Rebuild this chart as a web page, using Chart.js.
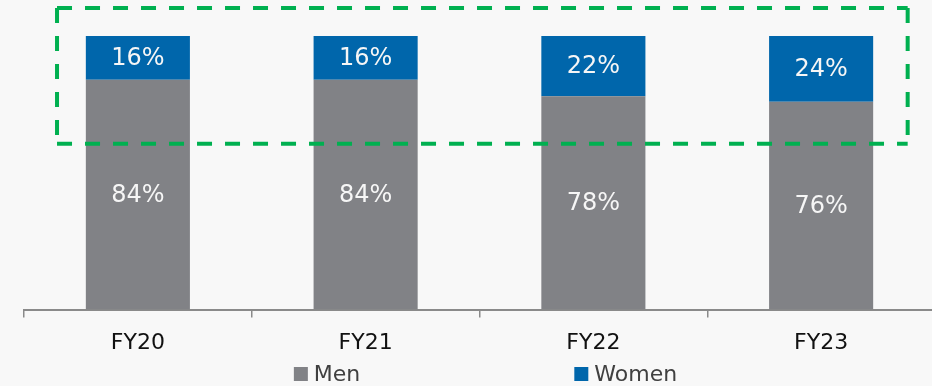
<!DOCTYPE html>
<html>
<head>
<meta charset="utf-8">
<script src="https://cdn.jsdelivr.net/npm/chart.js@4/dist/chart.umd.min.js"></script>
<style>
  html, body { margin: 0; padding: 0; background: #f8f8f8; overflow: hidden; }
  #wrap { position: relative; width: 940px; height: 386px; }
</style>
</head>
<body>
<div id="wrap"><canvas id="c" width="940" height="386"></canvas></div>
<script>
// Workforce gender split by fiscal year (percent of headcount)
const categories = ['FY20', 'FY21', 'FY22', 'FY23'];
const men = [84, 84, 78, 76];
const women = [16, 16, 22, 24];
const seriesNames = ['Men', 'Women'];

const FONT = '"DejaVu Sans", Verdana, sans-serif';
const GREY = '#818286';
const BLUE = '#0066ab';

// White percentage labels centred in each stacked segment
const segmentLabels = {
  id: 'segmentLabels',
  afterDatasetsDraw(chart) {
    const ctx = chart.ctx;
    ctx.save();
    ctx.font = '24px ' + FONT;
    ctx.fillStyle = '#f6f6f6';
    ctx.textAlign = 'center';
    ctx.textBaseline = 'middle';
    chart.data.datasets.forEach((ds, i) => {
      chart.getDatasetMeta(i).data.forEach((bar, j) => {
        const y = (bar.y + bar.base) / 2;
        ctx.fillText(ds.data[j] + '%', bar.x, y + 1);
      });
    });
    ctx.restore();
  }
};

// Dashed green frame around the upper part of the bars (in axis units)
const highlightFrame = {
  id: 'highlightFrame',
  afterDraw(chart, args, opts) {
    const { x, y } = chart.scales;
    const l = x.getPixelForValue(opts.xMin), r = x.getPixelForValue(opts.xMax);
    const t = y.getPixelForValue(opts.yMax), b = y.getPixelForValue(opts.yMin);
    const ctx = chart.ctx;
    ctx.save();
    ctx.strokeStyle = opts.color;
    ctx.lineWidth = opts.width;
    ctx.setLineDash(opts.dash);
    ctx.beginPath();
    ctx.moveTo(l, t); ctx.lineTo(r, t);
    ctx.moveTo(r, t); ctx.lineTo(r, b);
    ctx.moveTo(l, b); ctx.lineTo(r, b);
    ctx.moveTo(l, t); ctx.lineTo(l, b);
    ctx.stroke();
    ctx.restore();
  }
};

// Legend row under the axis labels with wide spacing between entries
const wideLegend = {
  id: 'wideLegend',
  afterDraw(chart, args, opts) {
    const ctx = chart.ctx;
    ctx.save();
    ctx.font = opts.fontSize + 'px ' + FONT;
    ctx.textBaseline = 'middle';
    ctx.textAlign = 'left';
    const items = chart.data.datasets.map(ds => ({
      text: ds.label, color: ds.backgroundColor,
      w: opts.box + opts.boxGap + ctx.measureText(ds.label).width
    }));
    const total = items.reduce((s, it) => s + it.w, 0) + opts.itemGap * (items.length - 1);
    const ca = chart.chartArea;
    let xPos = (ca.left + ca.right) / 2 + opts.shift - total / 2;
    const yMid = opts.y;
    items.forEach(it => {
      ctx.fillStyle = it.color;
      ctx.fillRect(xPos, yMid - opts.box / 2, opts.box, opts.box);
      ctx.fillStyle = opts.color;
      ctx.fillText(it.text, xPos + opts.box + opts.boxGap, yMid + 1);
      xPos += it.w + opts.itemGap;
    });
    ctx.restore();
  }
};

new Chart(document.getElementById('c'), {
  type: 'bar',
  data: {
    labels: categories,
    datasets: [
      { label: seriesNames[0], data: men, backgroundColor: GREY, borderWidth: 0 },
      { label: seriesNames[1], data: women, backgroundColor: BLUE, borderWidth: 0 }
    ]
  },
  options: {
    responsive: false,
    animation: false,
    layout: { padding: { left: 24, right: 5, top: 36, bottom: 18 } },
    datasets: { bar: { categoryPercentage: 1, barPercentage: 0.457 } },
    scales: {
      x: {
        stacked: true,
        grid: { display: true, drawOnChartArea: false, drawTicks: true, tickLength: 8,
                color: '#8a8a8a', lineWidth: 1.5, offset: true },
        border: { display: true, color: '#8a8a8a', width: 2 },
        ticks: { color: '#111111', font: { family: FONT, size: 22 }, padding: 12 }
      },
      y: { stacked: true, display: false, min: 0, max: 100 }
    },
    plugins: {
      legend: { display: false },
      tooltip: { enabled: false },
      highlightFrame: { xMin: -0.355, xMax: 3.38, yMin: 60.6, yMax: 110.2,
                        color: '#00b050', width: 4, dash: [15, 13] },
      wideLegend: { fontSize: 22, box: 14, boxGap: 6, itemGap: 214, shift: 6,
                    y: 374, color: '#404040' }
    }
  },
  plugins: [segmentLabels, highlightFrame, wideLegend]
});
</script>
</body>
</html>
